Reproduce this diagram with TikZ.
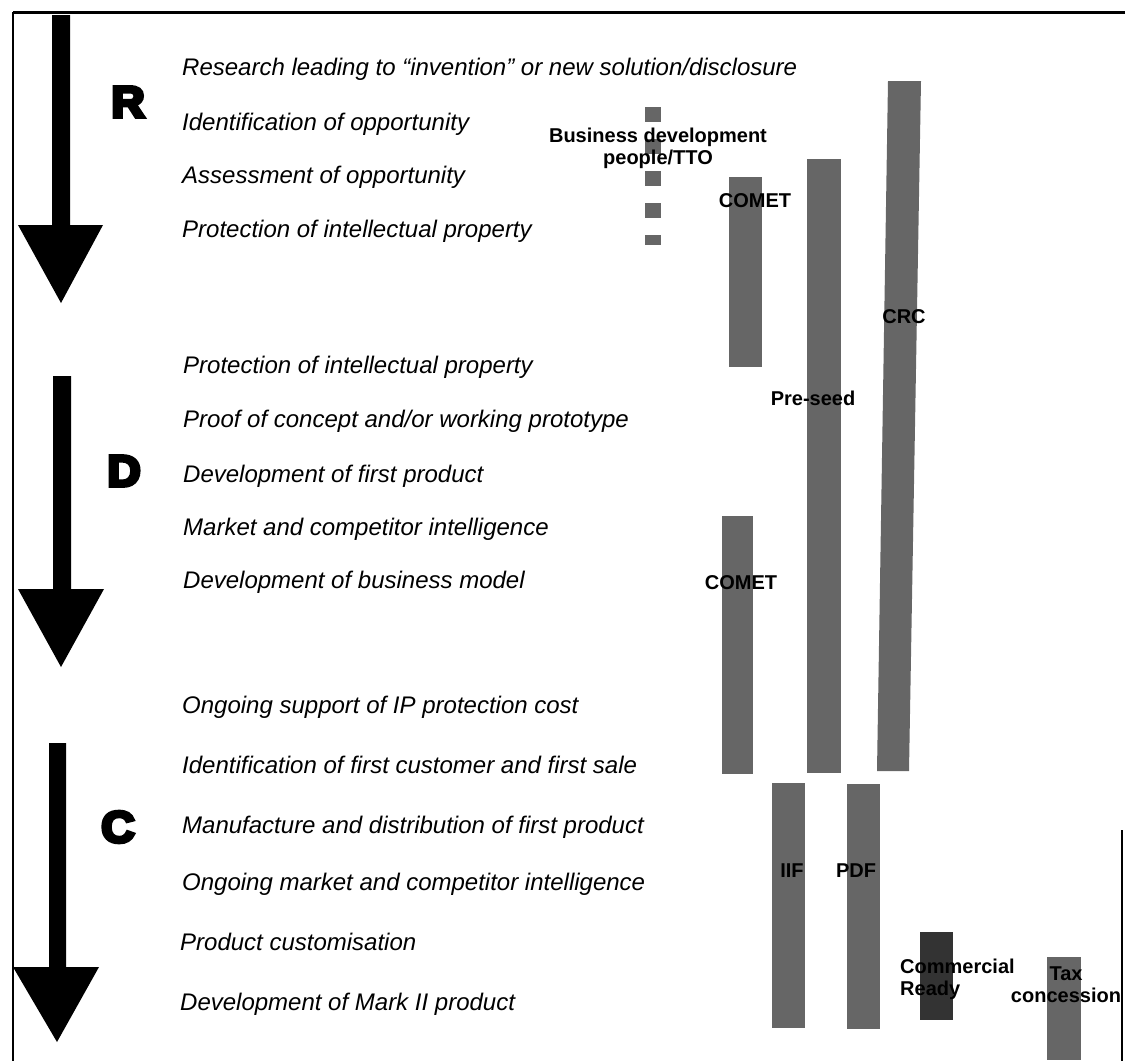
\documentclass[tikz,border=0pt]{standalone}
\usepackage{fontspec}
\setmainfont{Liberation Sans}
\newfontfamily\phasefont[FakeBold=8]{Liberation Sans Bold}

\begin{document}
\begin{tikzpicture}
[x=1pt,y=-1pt,
task/.style={anchor=base west,inner sep=0pt,font=\fontsize{24}{28}\selectfont\itshape},
phase/.style={inner sep=0pt,font=\fontsize{44}{48}\phasefont},
prog/.style={inner sep=0pt,align=center,font=\fontsize{20}{22}\selectfont\bfseries},
bar/.style={fill=black!60},
bigarrow/.style={fill=black}]
\useasboundingbox (0,0) rectangle (1125,1061);
% frame
\draw[line width=3pt] (13,12) -- (1125,12);
\draw[line width=2pt] (13,12) -- (13,1061);
\draw[line width=2pt] (1122,830) -- (1122,1061);
% stage arrows
\fill[bigarrow] (52,15) -- (70,15) -- (70,225) -- (103,225) -- (61,303) -- (18,225) -- (52,225) -- cycle;
\fill[bigarrow] (53,376) -- (71,376) -- (71,589) -- (104,589) -- (61,667) -- (18,589) -- (53,589) -- cycle;
\fill[bigarrow] (49,743) -- (66,743) -- (66,967) -- (99,967) -- (57,1042) -- (13,967) -- (49,967) -- cycle;
\node[phase] (R) at (128,102) {\scalebox{1.05}[1]{R}};
\node[phase] (D) at (124,471) {\scalebox{1.05}[1]{D}};
\node[phase] (C) at (118,827) {\scalebox{1.05}[1]{C}};
% research
\node[task] (r1) at (182,75) {Research leading to “invention” or new solution/disclosure};
\node[task] (r2) at (182,130) {Identification of opportunity};
\node[task] (r3) at (182,183) {Assessment of opportunity};
\node[task] (r4) at (182,237) {Protection of intellectual property};
% development
\node[task] (d1) at (183,373) {Protection of intellectual property};
\node[task] (d2) at (183,427) {Proof of concept and/or working prototype};
\node[task] (d3) at (183,482) {Development of first product};
\node[task] (d4) at (183,535) {Market and competitor intelligence};
\node[task] (d5) at (183,588) {Development of business model};
% commercialisation
\node[task] (c1) at (182,713) {Ongoing support of IP protection cost};
\node[task] (c2) at (182,773) {Identification of first customer and first sale};
\node[task] (c3) at (182,833) {Manufacture and distribution of first product};
\node[task] (c4) at (182,890) {Ongoing market and competitor intelligence};
\node[task] (c5) at (180,950) {Product customisation};
\node[task] (c6) at (180,1010) {Development of Mark II product};
% support programmes
\draw[draw=black!60,line width=16pt,dash pattern=on 15pt off 17pt] (653,107) -- (653,245);
\fill[bar] (729,177) rectangle (762,367);
\fill[bar] (807,159) rectangle (841,773);
\fill[bar] (888,81) -- (921,81) -- (909,771) -- (877,771) -- cycle;
\fill[bar] (722,516) rectangle (753,774);
\fill[bar] (772,783) rectangle (805,1028);
\fill[bar] (847,784) rectangle (880,1029);
\fill[fill=black!80] (920,932) rectangle (953,1020);
\fill[bar] (1047,957) rectangle (1081,1060);
\node[prog] (bdtto) at (658,148) {Business development\\people/TTO};
\node[prog,anchor=base] (comet1) at (755,207) {COMET};
\node[prog,anchor=base] (preseed) at (813,405) {Pre-seed};
\node[prog,anchor=base] (crc) at (904,323) {CRC};
\node[prog,anchor=base] (comet2) at (741,589) {COMET};
\node[prog,anchor=base] (iif) at (792,877) {IIF};
\node[prog,anchor=base] (pdf) at (856,877) {PDF};
\node[prog,align=left,anchor=west] (ready) at (900,979) {Commercial\\Ready};
\node[prog] (tax) at (1066,985) {Tax\\concession};
\end{tikzpicture}
\end{document}
